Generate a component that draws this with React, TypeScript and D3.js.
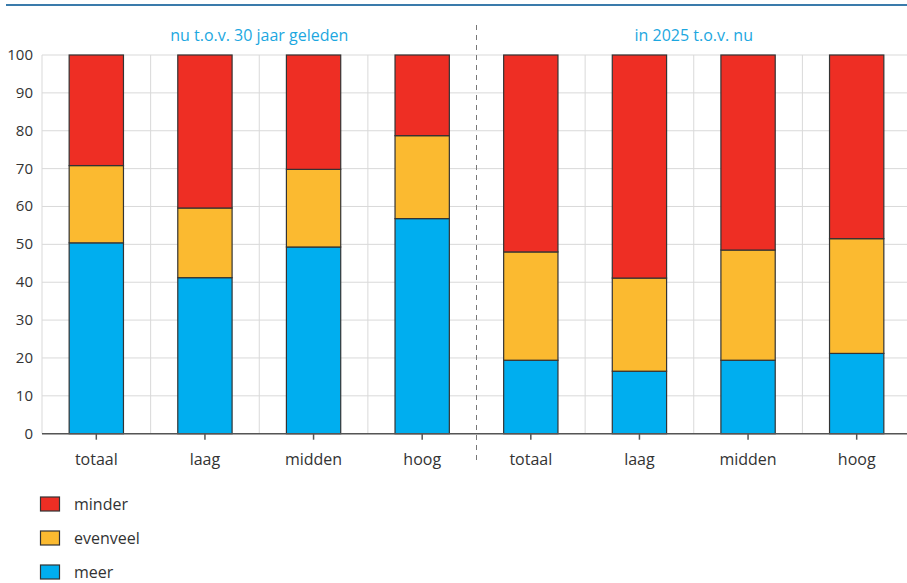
import React from "react";
import * as d3 from "d3";

const categories = ["totaal", "laag", "midden", "hoog", "totaal", "laag", "midden", "hoog"];
const groupTitles = ["nu t.o.v. 30 jaar geleden", "in 2025 t.o.v. nu"];
const meer = [50.4, 41.2, 49.3, 56.8, 19.4, 16.5, 19.4, 21.2];
const evenveel = [20.4, 18.4, 20.5, 21.9, 28.6, 24.6, 29.1, 30.3];
const minder = [29.2, 40.4, 30.2, 21.3, 52.0, 58.9, 51.5, 48.5];
const yTicks = [0, 10, 20, 30, 40, 50, 60, 70, 80, 90, 100];
const seriesNames = ["meer", "evenveel", "minder"];
const legendOrder = ["minder", "evenveel", "meer"];

const colors: Record<string, string> = {
  meer: "#00aeef",
  evenveel: "#fbba30",
  minder: "#ee2e24",
};

const W = 907;
const H = 583;
const left = 42;
const right = 911;
const top = 55;
const bottom = 433.7;
const font = "'Open Sans', sans-serif";

export default function App() {
  const idx = categories.map((_, i) => String(i));
  const x = d3.scaleBand<string>().domain(idx).range([left, right]).paddingInner(0).paddingOuter(0);
  const y = d3.scaleLinear().domain([0, 100]).range([bottom, top]);
  const rows = categories.map((c, i) => ({ key: String(i), meer: meer[i], evenveel: evenveel[i], minder: minder[i] }));
  const stacked = d3.stack<any>().keys(seriesNames)(rows);
  const bw = x.bandwidth() * 0.5;
  const mid = x("4")!;

  return (
    <svg width={W} height={H} style={{ position: "absolute", left: 0, top: 0, background: "#fff" }}>
      <line x1={6} x2={907} y1={5} y2={5} stroke="#3a7bab" strokeWidth={2} />
      {yTicks.map((t) => (
        <line key={"h" + t} x1={left} x2={right} y1={y(t)} y2={y(t)} stroke="#d9d9d9" strokeWidth={1} />
      ))}
      {idx.map((k) =>
        k === "4" ? null : (
          <line key={"v" + k} x1={x(k)!} x2={x(k)!} y1={top} y2={bottom} stroke="#d9d9d9" strokeWidth={1} />
        )
      )}
      <line x1={mid} x2={mid} y1={25} y2={462} stroke="#777" strokeWidth={1} strokeDasharray="5,5" />
      {stacked.map((s) => (
        <g key={s.key}>
          {s.map((d, i) => (
            <rect
              key={i}
              x={x(String(i))! + (x.bandwidth() - bw) / 2}
              width={bw}
              y={y(d[1])}
              height={y(d[0]) - y(d[1])}
              fill={colors[s.key]}
              stroke="#333"
              strokeWidth={1.2}
            />
          ))}
        </g>
      ))}
      <line x1={left} x2={right} y1={bottom} y2={bottom} stroke="#555" strokeWidth={1.5} />
      {categories.map((c, i) => {
        const cx = x(String(i))! + x.bandwidth() / 2;
        return (
          <g key={"x" + i}>
            <line x1={cx} x2={cx} y1={bottom} y2={bottom + 6} stroke="#555" strokeWidth={1.5} />
            <text x={cx} y={465} textAnchor="middle" fontFamily={font} fontSize={16} fill="#333">
              {c}
            </text>
          </g>
        );
      })}
      {yTicks.map((t) => (
        <text key={"y" + t} x={33} y={y(t) + 5} textAnchor="end" fontFamily={font} fontSize={15} fill="#333">
          {t}
        </text>
      ))}
      {groupTitles.map((g, gi) => {
        const x0 = gi === 0 ? left : mid;
        const x1 = gi === 0 ? mid : right;
        return (
          <text key={g} x={(x0 + x1) / 2} y={41} textAnchor="middle" fontFamily={font} fontSize={16} fill="#1ca7e0">
            {g}
          </text>
        );
      })}
      {legendOrder.map((k, i) => {
        const ly = 497 + i * 34;
        return (
          <g key={"l" + k}>
            <rect x={40.5} y={ly} width={19} height={14} fill={colors[k]} stroke="#333" strokeWidth={1.2} />
            <text x={74} y={ly + 12.5} fontFamily={font} fontSize={16} fill="#333">
              {k}
            </text>
          </g>
        );
      })}
    </svg>
  );
}
